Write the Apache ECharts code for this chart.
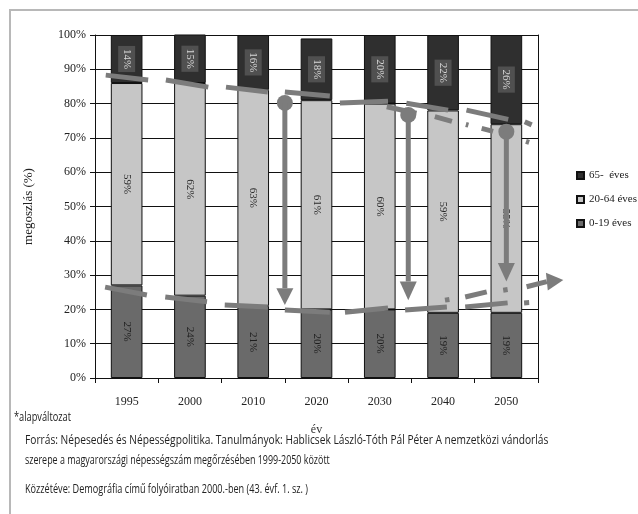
<!DOCTYPE html>
<html>
<head>
<meta charset="utf-8">
<script src="https://cdn.jsdelivr.net/npm/echarts@6/dist/echarts.min.js"></script>
<style>
  html, body { margin: 0; padding: 0; background: #fff; }
  #chart { width: 638px; height: 514px; }
</style>
</head>
<body>
<div id="chart"></div>
<script>
// Korcsoportos megoszlás (%), évenként
const years = ['1995', '2000', '2010', '2020', '2030', '2040', '2050'];
const age0_19 = [27, 24, 21, 20, 20, 19, 19];
const age20_64 = [59, 62, 63, 61, 60, 59, 55];
const age65 = [14, 15, 16, 18, 20, 22, 26];
const yTicks = [0, 10, 20, 30, 40, 50, 60, 70, 80, 90, 100];

// Kézi jelölések: x = kategóriasáv egységben (0..7), y = százalék
// felső szaggatott vonal darabjai [x1, y1, x2, y2]
const upperDashes = [
  [0.17, 88.3, 0.84, 86.9],
  [1.12, 86.9, 1.79, 84.8],
  [2.07, 84.8, 2.73, 83.4],
  [3.00, 83.4, 3.71, 82.2],
  [3.87, 80.2, 4.63, 80.7],
  [4.61, 79.1, 5.08, 77.2],
  [4.92, 80.1, 5.58, 78.1],
  [5.37, 76.2, 5.64, 74.8],
  [5.87, 78.1, 6.53, 75.4],
  [5.86, 73.9, 5.90, 73.7],
  [6.11, 72.8, 6.29, 71.9],
  [6.79, 74.7, 6.90, 73.8],
  [6.81, 69.0, 6.86, 68.7]
];
// alsó szaggatott vonal darabjai
const lowerDashes = [
  [0.16, 26.5, 0.82, 24.2],
  [1.11, 23.6, 1.77, 22.2],
  [2.05, 21.3, 2.73, 20.7],
  [3.00, 19.8, 3.71, 19.2],
  [3.95, 19.2, 4.63, 20.4],
  [4.90, 19.8, 5.56, 20.7],
  [5.53, 22.7, 5.60, 22.9],
  [5.85, 20.7, 6.52, 21.9],
  [5.85, 23.6, 6.19, 25.1],
  [6.45, 25.6, 6.52, 25.8],
  [6.78, 21.9, 6.86, 22.0]
];
// körök, ahonnan a lefelé mutató nyilak indulnak [x, y]
const circles = [[3.00, 80.2], [4.95, 76.7], [6.50, 71.8]];
// lefelé mutató nyilak [x, kezdet, fej alapja, hegy]
const downArrows = [
  [3.00, 80.2, 26.2, 21.3],
  [4.95, 76.7, 28.1, 22.7],
  [6.50, 71.8, 33.5, 28.1]
];
// jobbra mutató nyíl [x1, y1, x2, y2, hegy x, hegy y]
const rightArrows = [[6.82, 26.6, 7.14, 28.1, 7.40, 28.6]];

// lábjegyzet sorai
const noteLines = [
  '*alapváltozat',
  'Forrás: Népesedés és Népességpolitika. Tanulmányok: Hablicsek László-Tóth Pál Péter A nemzetközi vándorlás',
  'szerepe a magyarországi népességszám megőrzésében 1999-2050 között',
  'Közzétéve: Demográfia című folyóiratban 2000.-ben (43. évf. 1. sz. )'
];

const serif = "'Liberation Serif', 'Times New Roman', serif";
const noteFont = "12px 'Open Sans', sans-serif";
const markColor = '#7c7c7c';

const chart = echarts.init(document.getElementById('chart'), null, { renderer: 'canvas' });

function segRender(params, api) {
  const p1 = api.coord([api.value(0), api.value(1)]);
  const p2 = api.coord([api.value(2), api.value(3)]);
  return {
    type: 'line',
    shape: { x1: p1[0], y1: p1[1], x2: p2[0], y2: p2[1] },
    style: { stroke: markColor, lineWidth: 5, lineCap: 'butt' }
  };
}

function circleRender(params, api) {
  const p = api.coord([api.value(0), api.value(1)]);
  return { type: 'circle', shape: { cx: p[0], cy: p[1], r: 8 }, style: { fill: markColor } };
}

function downArrowRender(params, api) {
  const top = api.coord([api.value(0), api.value(1)]);
  const base = api.coord([api.value(0), api.value(2)]);
  const tip = api.coord([api.value(0), api.value(3)]);
  return {
    type: 'group',
    children: [
      { type: 'line', shape: { x1: top[0], y1: top[1], x2: base[0], y2: base[1] },
        style: { stroke: markColor, lineWidth: 5 } },
      { type: 'polygon', shape: { points: [[base[0] - 8.5, base[1]], [base[0] + 8.5, base[1]], [tip[0], tip[1]]] },
        style: { fill: markColor } }
    ]
  };
}

function rightArrowRender(params, api) {
  const a = api.coord([api.value(0), api.value(1)]);
  const b = api.coord([api.value(2), api.value(3)]);
  const t = api.coord([api.value(4), api.value(5)]);
  const dx = t[0] - b[0], dy = t[1] - b[1];
  const len = Math.sqrt(dx * dx + dy * dy);
  const nx = -dy / len * 9, ny = dx / len * 9;
  return {
    type: 'group',
    children: [
      { type: 'line', shape: { x1: a[0], y1: a[1], x2: b[0], y2: b[1] },
        style: { stroke: markColor, lineWidth: 5 } },
      { type: 'polygon', shape: { points: [[b[0] + nx, b[1] + ny], [b[0] - nx, b[1] - ny], [t[0], t[1]]] },
        style: { fill: markColor } }
    ]
  };
}

function barLabel(color, bg) {
  const l = {
    show: true,
    position: 'inside',
    rotate: -90,
    formatter: '{c}%',
    fontFamily: serif,
    fontSize: 11,
    color: color
  };
  if (bg) { l.backgroundColor = bg; l.padding = [3, 3]; }
  return l;
}

function annot(name, data, render, z) {
  return {
    name: name,
    type: 'custom',
    xAxisIndex: 1,
    yAxisIndex: 0,
    clip: false,
    silent: true,
    z: z || 5,
    data: data,
    renderItem: render
  };
}

// a lábjegyzet keskeny betűképét vízszintes zsugorítással adjuk vissza
const notePlacement = [
  { x: 14, y: 412, sx: 0.77 },
  { x: 25, y: 435, sx: 0.85 },
  { x: 25, y: 455, sx: 0.745 },
  { x: 25, y: 484, sx: 0.76 }
];
const noteGraphics = noteLines.map((t, i) => {
  const p = notePlacement[i];
  return {
    type: 'text', x: p.x, y: p.y, scaleX: p.sx,
    style: { text: t, font: noteFont, fill: '#222', textVerticalAlign: 'top' }
  };
});

chart.setOption({
  animation: false,
  grid: { left: 95, right: 100, top: 35, bottom: 136 },
  legend: {
    orient: 'vertical',
    left: 571,
    top: 165,
    icon: 'rect',
    itemWidth: 7,
    itemHeight: 7,
    itemGap: 13,
    data: ['65-  éves', '20-64 éves', '0-19 éves'],
    textStyle: { fontFamily: serif, fontSize: 11, color: '#222' }
  },
  xAxis: [
    {
      type: 'category',
      data: years,
      name: 'év',
      nameLocation: 'middle',
      nameGap: 46,
      nameTextStyle: { fontFamily: serif, fontSize: 12, color: '#333' },
      axisLine: { lineStyle: { color: '#111', width: 1 } },
      axisTick: { show: true, length: 5, lineStyle: { color: '#111' } },
      axisLabel: { fontFamily: serif, fontSize: 12, color: '#222', margin: 18 },
      splitLine: { show: false }
    },
    { type: 'value', min: 0, max: 7, show: false }
  ],
  yAxis: [
    {
      type: 'value',
      min: 0,
      max: 100,
      interval: 10,
      name: 'megoszlás (%)',
      nameLocation: 'middle',
      nameGap: 60,
      nameTextStyle: { fontFamily: serif, fontSize: 13, color: '#222' },
      axisLine: { show: true, lineStyle: { color: '#111', width: 1 } },
      axisTick: { show: true, length: 5, lineStyle: { color: '#111' } },
      axisLabel: {
        fontFamily: serif, fontSize: 12, color: '#222', margin: 9,
        customValues: yTicks,
        formatter: v => v + '%'
      },
      splitLine: { show: true, lineStyle: { color: '#111', width: 1 } }
    },
    {
      type: 'value',
      min: 0,
      max: 100,
      position: 'right',
      axisLine: { show: true, lineStyle: { color: '#111', width: 1 } },
      axisTick: { show: false },
      axisLabel: { show: false },
      splitLine: { show: false }
    }
  ],
  series: [
    {
      name: '0-19 éves', type: 'bar', stack: 'k', barWidth: '50%',
      data: age0_19,
      itemStyle: { color: '#6a6a6a', borderColor: '#111', borderWidth: 1 },
      label: barLabel('#1e1e1e')
    },
    {
      name: '20-64 éves', type: 'bar', stack: 'k',
      data: age20_64,
      itemStyle: { color: '#c6c6c6', borderColor: '#111', borderWidth: 1 },
      label: barLabel('#2a2a2a')
    },
    {
      name: '65-  éves', type: 'bar', stack: 'k',
      data: age65,
      itemStyle: { color: '#2f2f2f', borderColor: '#111', borderWidth: 1 },
      label: barLabel('#d8d8d8', '#505050')
    },
    annot('felső', upperDashes, segRender),
    annot('alsó', lowerDashes, segRender),
    annot('körök', circles, circleRender, 6),
    annot('nyilak', downArrows, downArrowRender, 6),
    annot('jobbra', rightArrows, rightArrowRender, 6)
  ],
  graphic: [
    {
      type: 'rect', z: 0,
      shape: { x: 10, y: 10, width: 700, height: 600 },
      style: { fill: 'none', stroke: '#b8b8b8', lineWidth: 2 }
    }
  ].concat(noteGraphics)
});
</script>
</body>
</html>
